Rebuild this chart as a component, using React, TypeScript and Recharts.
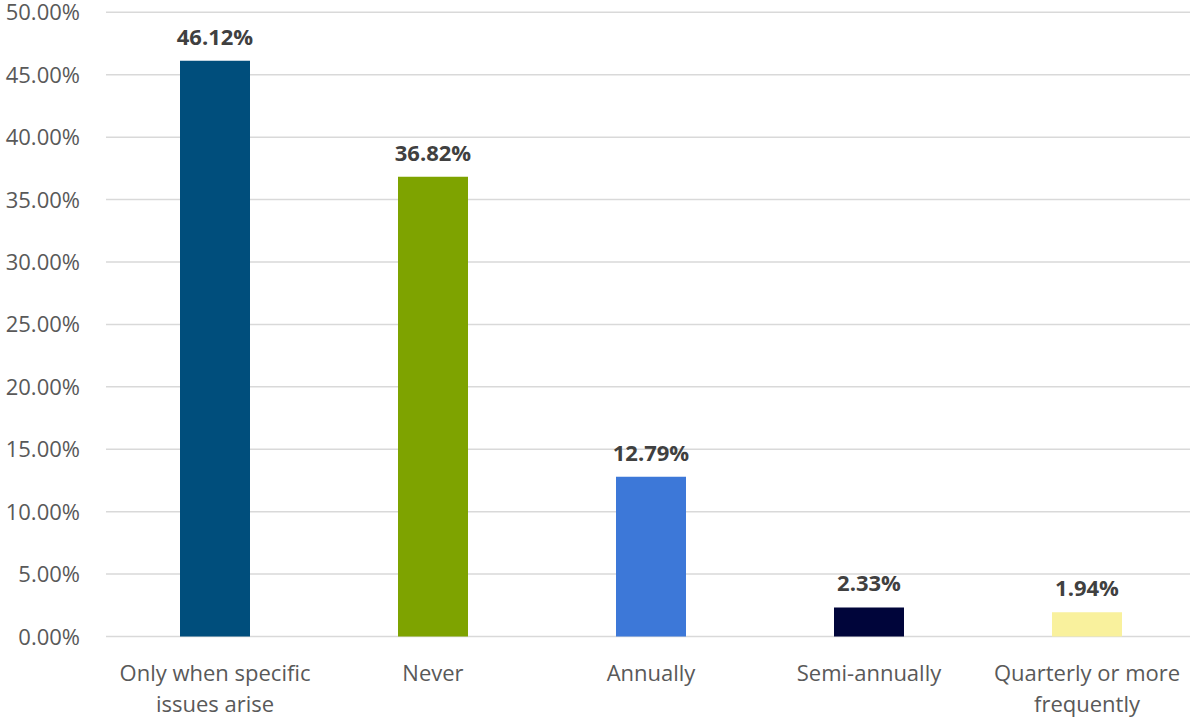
import React from 'react';
import { BarChart, Bar, XAxis, YAxis, CartesianGrid, Cell, LabelList } from 'recharts';

const categories = [
  'Only when specific\nissues arise',
  'Never',
  'Annually',
  'Semi-annually',
  'Quarterly or more\nfrequently',
];
const shares = [46.12, 36.82, 12.79, 2.33, 1.94];
const barColors = ['#004e7c', '#7ea300', '#3d78d8', '#00053a', '#f9f19d'];
const yTicks = [0, 5, 10, 15, 20, 25, 30, 35, 40, 45, 50];

const data = categories.map((name, i) => ({ name, value: shares[i] }));

const FONT = '"Open Sans", "Noto Sans", sans-serif';

const CategoryTick = (props: any) => {
  const { x, y, payload } = props;
  const lines = String(payload.value).split('\n');
  return (
    <text x={x} y={y} textAnchor="middle" fill="#595959" fontSize={22} fontFamily={FONT}>
      {lines.map((line, i) => (
        <tspan key={i} x={x} dy={i === 0 ? 44.5 : 31}>
          {line}
        </tspan>
      ))}
    </text>
  );
};

const ValueTick = (props: any) => {
  const { x, y, payload } = props;
  return (
    <text x={x} y={y + 8} textAnchor="end" fill="#595959" fontSize={22} fontFamily={FONT}>
      {`${Number(payload.value).toFixed(2)}%`}
    </text>
  );
};

export default function App() {
  return (
    <div
      style={{
        position: 'absolute',
        left: 0,
        top: 0,
        width: 1190,
        height: 721,
        overflow: 'hidden',
        background: '#fff',
        fontFamily: FONT,
      }}
    >
      <BarChart
        width={1196}
        height={721}
        data={data}
        margin={{ top: 12.3, right: 0, bottom: 0, left: 0 }}
      >
        <CartesianGrid vertical={false} stroke="#d9d9d9" strokeWidth={1.5} />
        <XAxis
          dataKey="name"
          interval={0}
          axisLine={false}
          tickLine={false}
          tickSize={0}
          tickMargin={0}
          height={84.5}
          tick={<CategoryTick />}
        />
        <YAxis
          width={106}
          domain={[0, 50]}
          ticks={yTicks}
          axisLine={false}
          tickLine={false}
          tickSize={0}
          tickMargin={26}
          tick={<ValueTick />}
        />
        <Bar dataKey="value" barSize={70} isAnimationActive={false}>
          {data.map((d, i) => (
            <Cell key={d.name} fill={barColors[i]} />
          ))}
          <LabelList
            dataKey="value"
            position="top"
            offset={16}
            fill="#404040"
            fontSize={22}
            fontWeight="bold"
            fontFamily={FONT}
            formatter={(v: any) => `${Number(v).toFixed(2)}%`}
          />
        </Bar>
      </BarChart>
    </div>
  );
}
